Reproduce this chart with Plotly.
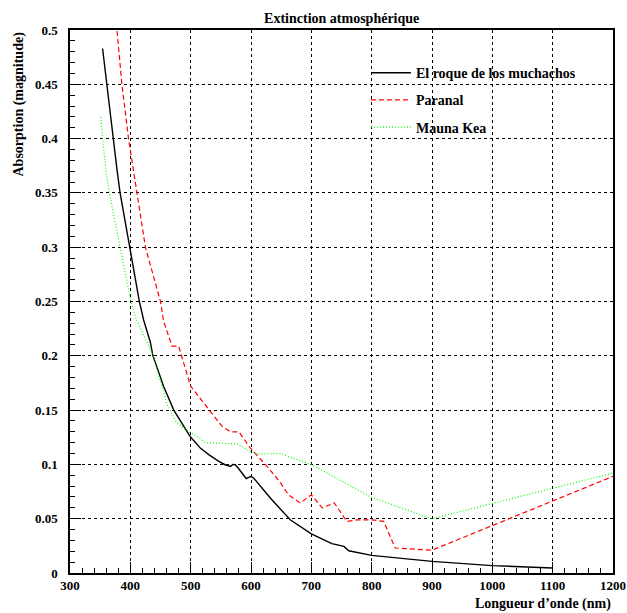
import plotly.graph_objects as go

# El roque de los muchachos
roque_x = [354, 361, 371, 378, 383, 399, 415, 422, 433, 437.5, 455, 472, 488, 500, 505, 516, 530, 535,
           546, 557, 566, 570, 574, 580, 592, 600, 605, 632, 665, 700, 734, 754, 762, 800, 900, 1000, 1100]
roque_y = [0.483, 0.450, 0.400, 0.371, 0.350, 0.300, 0.250, 0.233, 0.213, 0.200, 0.172, 0.150, 0.135,
           0.125, 0.122, 0.115, 0.109, 0.107, 0.103, 0.0997, 0.0982, 0.1000, 0.0997, 0.0958, 0.087, 0.089,
           0.087, 0.069, 0.049, 0.036, 0.027, 0.0245, 0.0205, 0.0162, 0.0107, 0.0068, 0.0046]

# Paranal
paranal_x = [378, 386, 397, 405, 411, 425, 450, 455, 469, 480, 500, 530, 552, 566, 580, 599, 627, 649,
             662, 682, 700, 718, 738, 759, 776, 800, 820, 839, 900, 1200]
paranal_y = [0.499, 0.450, 0.400, 0.371, 0.350, 0.300, 0.250, 0.232, 0.209, 0.209, 0.172, 0.150, 0.135,
             0.130, 0.130, 0.115, 0.098, 0.083, 0.072, 0.0645, 0.072, 0.060, 0.0645, 0.0475, 0.049, 0.049,
             0.0475, 0.023, 0.021, 0.089]

# Mauna Kea
mk_x = [351, 354, 361, 367, 383, 401, 410, 438, 461, 475, 488, 500, 511, 524, 577, 599, 610, 650, 660,
        682, 700, 800, 900, 1100, 1200]
mk_y = [0.420, 0.400, 0.364, 0.345, 0.300, 0.250, 0.233, 0.200, 0.155, 0.140, 0.1335, 0.129, 0.1258,
        0.120, 0.119, 0.112, 0.1096, 0.110, 0.1074, 0.1037, 0.100, 0.0695, 0.050, 0.078, 0.092]

x_ticks = [300, 400, 500, 600, 700, 800, 900, 1000, 1100, 1200]
y_ticks = [0, 0.05, 0.1, 0.15, 0.2, 0.25, 0.3, 0.35, 0.4, 0.45, 0.5]
y_labels = ["0", "0.05", "0.1", "0.15", "0.2", "0.25", "0.3", "0.35", "0.4", "0.45", "0.5"]

FONT = "Liberation Serif"

fig = go.Figure()
fig.add_trace(go.Scatter(x=roque_x, y=roque_y, mode="lines", name="<b>El roque de los muchachos</b>",
                         legendgroup="a", line=dict(color="black", width=1.4)))
fig.add_trace(go.Scatter(x=paranal_x, y=paranal_y, mode="lines", name="<b>Paranal</b>",
                         legendgroup="b", line=dict(color="#ff0000", width=1.2, dash="5px,3px")))
fig.add_trace(go.Scatter(x=mk_x, y=mk_y, mode="lines", name="<b>Mauna Kea</b>",
                         legendgroup="c", line=dict(color="#00ff00", width=1.2, dash="1px,2px")))

fig.update_layout(
    width=627, height=613,
    margin=dict(l=70, r=14, t=30, b=40, autoexpand=False),
    paper_bgcolor="white", plot_bgcolor="white",
    font=dict(family=FONT, size=13, color="black"),
    title=dict(text="<b>Extinction atmosphérique</b>", x=0.545, xanchor="center",
               y=1 - 18 / 613, yanchor="middle", font=dict(size=14)),
    showlegend=True,
    legend=dict(x=0.545, y=0.95, xanchor="left", yanchor="top", bgcolor="rgba(0,0,0,0)",
                borderwidth=0, tracegroupgap=6, itemwidth=40, font=dict(size=14, family=FONT)),
    xaxis=dict(range=[300, 1200], tickvals=x_ticks, ticktext=[f"<b>{v}</b>" for v in x_ticks],
               automargin=False,
               ticks="inside", ticklen=11, tickwidth=1, tickcolor="black",
               showline=True, linecolor="black", linewidth=1.5, mirror=True,
               showgrid=True, gridcolor="black", griddash="dot", gridwidth=1,
               minor=dict(dtick=20, ticks="inside", ticklen=5, tickcolor="black", showgrid=False),
               zeroline=False, tickfont=dict(size=13)),
    yaxis=dict(range=[0, 0.5], tickvals=y_ticks, ticktext=[f"<b>{v}</b>" for v in y_labels],
               automargin=False, ticklabelstandoff=8,
               ticks="inside", ticklen=11, tickwidth=1, tickcolor="black",
               showline=True, linecolor="black", linewidth=1.5, mirror=True,
               showgrid=True, gridcolor="black", griddash="dot", gridwidth=1,
               minor=dict(dtick=0.01, ticks="inside", ticklen=5, tickcolor="black", showgrid=False),
               zeroline=False, tickfont=dict(size=13)),
    annotations=[
        dict(text="<b>Longueur d’onde (nm)</b>", xref="paper", yref="paper", x=1, y=0,
             xanchor="right", yanchor="middle", yshift=-31, showarrow=False, font=dict(size=14)),
        dict(text="<b>Absorption (magnitude)</b>", xref="paper", yref="paper", x=0, y=1,
             xanchor="center", yanchor="top", xshift=-52, textangle=-90, showarrow=False,
             font=dict(size=14)),
    ],
)

fig.write_html("out.html", config={"displayModeBar": False},
               post_script="document.body.style.margin='0';document.body.style.overflow='hidden';")
